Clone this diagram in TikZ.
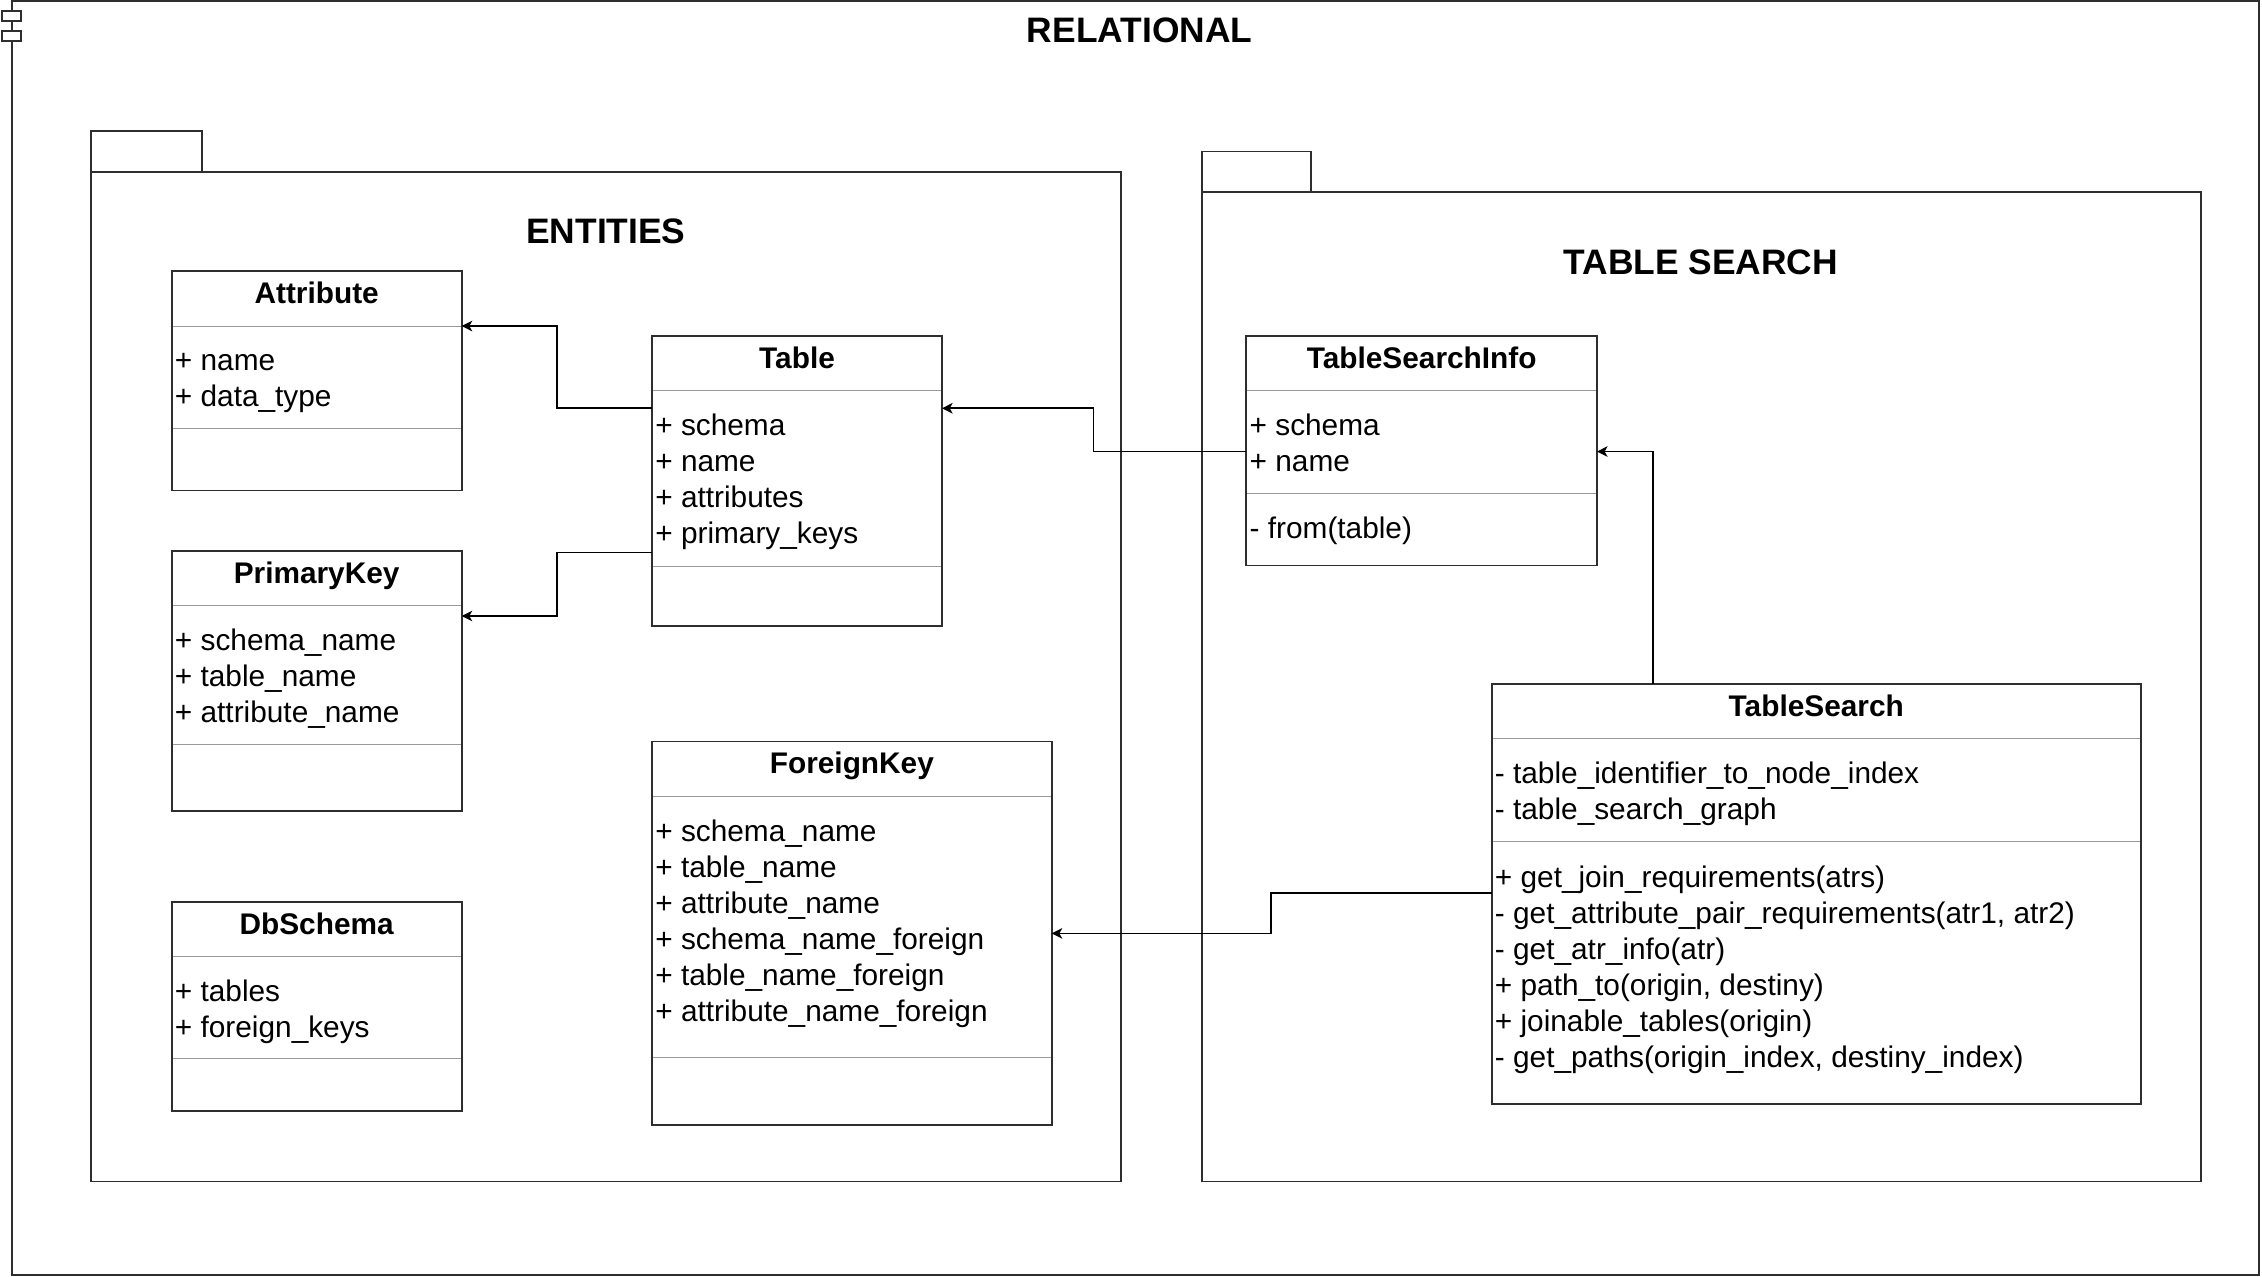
\documentclass[tikz,border=0pt]{standalone}
\usepackage{fontspec}
\setmainfont{Liberation Sans}
\usetikzlibrary{fit,arrows.meta}
\tikzset{
  boxline/.style={draw=black!82, line width=1pt},
  classbox/.style={boxline, inner sep=0pt, outer sep=0pt},
  divider/.style={draw=black!40, line width=0.55pt},
  conn/.style={draw=black, line width=0.9pt, -{Stealth[length=5.5pt,width=5.5pt,inset=1.5pt]}},
  ctitle/.style={font=\bfseries\fontsize{15.5}{18.75}\selectfont, anchor=base, inner sep=0pt},
  field/.style={font=\fontsize{15.5}{18.75}\selectfont, anchor=base west, inner sep=0pt},
  ptitle/.style={font=\bfseries\fontsize{18.4}{22}\selectfont, anchor=base, inner sep=0pt},
}
\newcommand\umlclass[8]{%
  \node[fit={(#2,#3) (#4,#5)}, classbox] (#1) {};
  \node[ctitle] (#1-title) at ({(#2+#4)/2},{#3+22.5}) {#6};
  \draw[divider] ({#2+0.7},#7) -- ({#4-0.7},#7);
  \draw[divider] ({#2+0.7},#8) -- ({#4-0.7},#8);
}
\newcommand\umlfields[4]{%
  \foreach \t [count=\i] in {#4} {\node[field] (#1-\i) at (#2,{#3+25*(\i-1)}) {\t};}
}
\begin{document}
\begin{tikzpicture}[x=0.75pt,y=-0.75pt]
\useasboundingbox (0,0) rectangle (1568,885.2);
\fill[white] (0,0) rectangle (1568,885.2);
% outer frame
\node[fit={(8,1) (1566,884)}, classbox] (relational) {};
\draw[boxline, fill=white] (1.5,7.5) rectangle (14.5,14.5);
\draw[boxline, fill=white] (1.5,21.5) rectangle (14.5,28.5);
\node[ptitle] (relational-title) at (790,29.5) {RELATIONAL};
% entities package
\draw[boxline] (63,119) -- (63,91) -- (140,91) -- (140,119);
\node[fit={(63,119) (777,819)}, classbox] (entities) {};
\node[ptitle] (entities-title) at (420,168.5) {ENTITIES};
% table search package
\draw[boxline] (833,133) -- (833,105) -- (909,105) -- (909,133);
\node[fit={(833,133) (1526,819)}, classbox] (tablesearchpkg) {};
\node[ptitle] (tablesearchpkg-title) at (1179,190.5) {TABLE SEARCH};
% classes
\umlclass{attr}{119}{188}{320}{340}{Attribute}{226}{297}
\umlfields{attrf}{121}{257}{+ name, + data\_type}
\umlclass{tbl}{452}{233}{653}{434}{Table}{271}{393}
\umlfields{tblf}{454}{302}{+ schema, + name, + attributes, + primary\_keys}
\umlclass{pk}{119}{382}{320}{562}{PrimaryKey}{420}{516}
\umlfields{pkf}{121}{451}{+ schema\_name, + table\_name, + attribute\_name}
\umlclass{dbs}{119}{625}{320}{770}{DbSchema}{663}{734}
\umlfields{dbsf}{121}{694}{+ tables, + foreign\_keys}
\umlclass{fk}{452}{514}{729}{780}{ForeignKey}{552}{733}
\umlfields{fkf}{454}{583}{+ schema\_name, + table\_name, + attribute\_name, + schema\_name\_foreign, + table\_name\_foreign, + attribute\_name\_foreign}
\umlclass{tsi}{864}{233}{1107}{392}{TableSearchInfo}{271}{342}
\umlfields{tsif}{866}{302}{+ schema, + name}
\umlfields{tsim}{866}{373}{- from(table)}
\umlclass{ts}{1034}{474}{1484}{765}{TableSearch}{512}{583}
\umlfields{tsf}{1036}{543}{- table\_identifier\_to\_node\_index, - table\_search\_graph}
\umlfields{tsm}{1036}{615}{+ get\_join\_requirements(atrs), {- get\_attribute\_pair\_requirements(atr1, atr2)}, - get\_atr\_info(atr), {+ path\_to(origin, destiny)}, + joinable\_tables(origin), {- get\_paths(origin\_index, destiny\_index)}}
% connectors
\coordinate (c1a) at (386,283); \coordinate (c1b) at (386,226);
\draw[conn] (tbl.west |- c1a) -- (c1a) -- (c1b) -- (attr.east |- c1b);
\coordinate (c2a) at (386,383); \coordinate (c2b) at (386,427);
\draw[conn] (tbl.west |- c2a) -- (c2a) -- (c2b) -- (pk.east |- c2b);
\coordinate (c3a) at (758,313); \coordinate (c3b) at (758,283);
\draw[conn] (tsi.west |- c3a) -- (c3a) -- (c3b) -- (tbl.east |- c3b);
\coordinate (c4a) at (1146,313);
\draw[conn] (ts.north -| c4a) -- (c4a) -- (tsi.east |- c4a);
\coordinate (c5a) at (881,619); \coordinate (c5b) at (881,647);
\draw[conn] (ts.west |- c5a) -- (c5a) -- (c5b) -- (fk.east |- c5b);
\end{tikzpicture}
\end{document}
